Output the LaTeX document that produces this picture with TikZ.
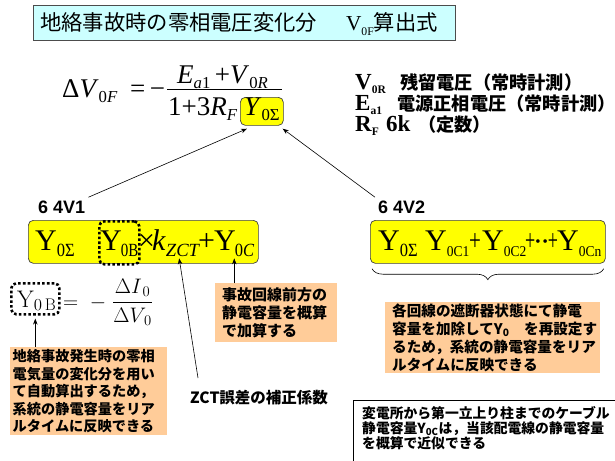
\RequirePackage{fix-cm}
\documentclass[tikz,border=0pt]{standalone}
\usepackage{amsmath}
\usepackage{fontspec}
\newfontfamily\jp{Noto Sans CJK JP}
\newfontfamily\tms{Liberation Serif}
\newfontfamily\ars{Liberation Sans}
\usetikzlibrary{arrows.meta,decorations.pathreplacing}
\definecolor{cyanc}{HTML}{CCFFFF}
\definecolor{orgc}{HTML}{FFCC99}
\definecolor{yelc}{HTML}{FFFF00}
\newcommand\sbx[3]{\raisebox{-0.2em}{\scalebox{#1}[#2]{#3}}}
\newcommand\sbs[2][0.62]{\sbx{#1}{#1}{#2}}
\newcommand\fs[2]{\fontsize{#1}{#2}\selectfont}
\begin{document}
\begin{tikzpicture}[x=1pt,y=-1pt,
  tx/.style={inner sep=0pt, anchor=base west},
  big/.style={font={\fs{30}{32}\tms}},
  frm/.style={font={\fs{27}{30}\tms}},
  yel/.style={draw=black!75, fill=yelc, rounded corners=5pt, line width=0.7pt, anchor=north west, inner sep=0pt},
  org/.style={fill=orgc, anchor=north west, align=left, inner ysep=1.5pt},
  dotbox/.style={draw=black, line width=2.6pt, dash pattern=on 2.6pt off 2.2pt, rounded corners=5pt, anchor=north west, inner sep=0pt},
  arr/.style={-{Stealth[length=6pt,width=4.5pt]}, line width=0.6pt},
]
\fill[white] (0,0) rectangle (615,460);
\useasboundingbox (0,0) rectangle (615,460);

% title
\node[draw=black!70, line width=0.8pt, fill=cyanc, anchor=north west, minimum width=422, minimum height=35, inner sep=0] (title) at (33,5) {};
\node[tx] (titletxt) at (40,31) {\fs{21.3}{24}\jp 地絡事故時の零相電圧変化分\hspace{29pt}{\tms V\sbs[0.55]{0F}}算出式};

% main formula
\node[tx, frm] (dv) at (62,97) {Δ\textit{V}\sbs{0\textit{F}}};
\node[tx, frm] (eq) at (130,97) {=\,−};
\node[tx, frm] (num) at (177,83) {\textit{E}\sbs{\textit{a}1}\,+\textit{V}\sbs{0\textit{R}}};
\draw[line width=1pt] (167,89) -- (282,89);
\node[tx, frm] (den) at (168,115) {1+3\textit{R}\sbs{\textit{F}}};
\node[yel, minimum width=43, minimum height=28] (ysig) at (240,97) {};
\node[tx, frm] (ysigt) at (244,115) {\textit{Y}\sbs{0Σ}};

% legend
\node[tx] (l1a) at (355,89) {\fs{23}{26}\tms\bfseries V\sbs[0.5]{0R}};
\node[tx] (l1b) at (400,89) {\fs{18.2}{20}\jp\bfseries 残留電圧（常時計測）};
\node[tx] (l2a) at (355,110) {\fs{23}{26}\tms\bfseries E\sbs[0.5]{a1}};
\node[tx] (l2b) at (397,110) {\fs{18.2}{20}\jp\bfseries 電源正相電圧（常時計測）};
\node[tx] (l3a) at (355,131) {\fs{23}{26}\tms\bfseries R\sbs[0.5]{F}};
\node[tx] (l3b) at (386,131) {\fs{23}{26}\tms\bfseries 6k};
\node[tx] (l3c) at (418,131) {\fs{18.2}{20}\jp\bfseries （定数）};

% labels and arrows to Y0Sigma
\node[tx, inner sep=3pt] (v1lab) at (35,213) {\fs{18}{20}\ars\bfseries 6 4V1};
\node[tx, inner sep=3pt] (v2lab) at (375,213) {\fs{18}{20}\ars\bfseries 6 4V2};
\draw[arr] (v1lab.north east) -- ([xshift=7pt,yshift=-3pt]ysig.south west);
\draw[arr] (v2lab.north west) -- ([xshift=-1pt,yshift=-3pt]ysig.south east);

% 64V1 box
\node[yel, minimum width=230, minimum height=43] (v1box) at (28,220) {};
\node[tx, big] (y0s1) at (35,250) {Y\sbx{0.55}{0.62}{0Σ}};
\node[dotbox, minimum width=40, minimum height=43] (y0bbox) at (98,220) {};
\node[tx, big] (y0b) at (100,250) {Y\kern-1pt\sbx{0.5}{0.62}{0B}};
\node[tx, big] (tms1) at (138,250) {×};
\node[tx, big] (kz) at (152,250) {\textit{k}\sbx{0.62}{0.62}{\textit{ZCT}}};
\node[tx, big] (pl1) at (198,250) {+};
\node[tx, big] (y0c) at (214,250) {Y\kern-1pt\sbx{0.55}{0.62}{0\textit{C}}};

% 64V2 box
\node[yel, minimum width=235, minimum height=43] (v2box) at (370,220) {};
\node[tx, big] (y0s2) at (378,250) {Y\sbx{0.55}{0.62}{0Σ}};
\node[tx, big] (a1) at (425,250) {Y\sbx{0.45}{0.5}{0C1}};
\node[tx, big] (p1) at (469,250) {\scalebox{0.7}[1]{+}};
\node[tx, big] (a2) at (482,250) {Y\sbx{0.45}{0.5}{0C2}};
\node[tx, big] (dots) at (525,250) {\scalebox{0.6}[1]{+}\raisebox{0.12em}{\scalebox{0.5}{•}}\hspace{2pt}\raisebox{0.12em}{\scalebox{0.5}{•}}\scalebox{0.6}[1]{+}};
\node[tx, big] (a3) at (557,250) {Y\sbx{0.45}{0.5}{0Cn}};
\draw[decorate, decoration={brace, mirror, amplitude=11pt}, line width=0.6pt] ([xshift=2pt,yshift=-5pt]v2box.south west) -- ([xshift=-2pt,yshift=-5pt]v2box.south east);

% orange boxes
\node[org, font={\fs{14.6}{18}\jp\bfseries}, text width=201pt, inner xsep=7pt, minimum height=71] (rbox) at (385,302) {各回線の遮断器状態にて静電\\容量を加除してY\textsubscript{0}　を再設定す\\るため，系統の静電容量をリア\\ルタイムに反映できる};
\node[org, font={\fs{15}{18}\jp\bfseries}, text width=108pt, inner xsep=7pt, minimum height=59] (mbox) at (215,283) {事故回線前方の\\静電容量を概算\\で加算する};
\node[org, font={\fs{14.2}{17.5}\jp\bfseries}, text width=152pt, inner xsep=2.5pt, minimum height=88] (lbox) at (10,347) {地絡事故発生時の零相\\電気量の変化分を用い\\て自動算出するため，\\系統の静電容量をリア\\ルタイムに反映できる};
\draw[arr] (y0c.south |- mbox.north) -- ([yshift=-2pt]y0c.south);

% ZCT label
\node[tx] (zct) at (190,403) {\fs{15.5}{18}\jp\bfseries ZCT誤差の補正係数};
\coordinate (zcts) at (198,378);
\draw[arr] (zcts) -- ([xshift=3pt,yshift=-2pt]kz.south);

% left formula
\node[dotbox, minimum width=48, minimum height=31] (ybf) at (10,282) {};
\node[tx] (ybft) at (17,307) {\fs{24}{26}$\mathrm{Y}_{0\,\mathrm{B}}$};
\node[tx] (ybeq) at (63,308) {\fs{21}{24}$\displaystyle =\;-\;\frac{\Delta I_{\,0}}{\Delta V_{\,0}}$};
\draw[arr] (ybf.south |- lbox.north) -- ([yshift=-3pt]ybf.south);

% bottom box
\node[draw=black, line width=0.8pt, fill=white, anchor=north west, minimum width=262, minimum height=65, inner sep=0] (bbox) at (353,400) {};
\node[anchor=north west, inner sep=0pt, align=left, font={\fs{13.8}{15}\jp\bfseries}] (btxt) at (362,406) {変電所から第一立上り柱までのケーブル\\静電容量Y\textsubscript{0C}は，当該配電線の静電容量\\を概算で近似できる};
\end{tikzpicture}
\end{document}
